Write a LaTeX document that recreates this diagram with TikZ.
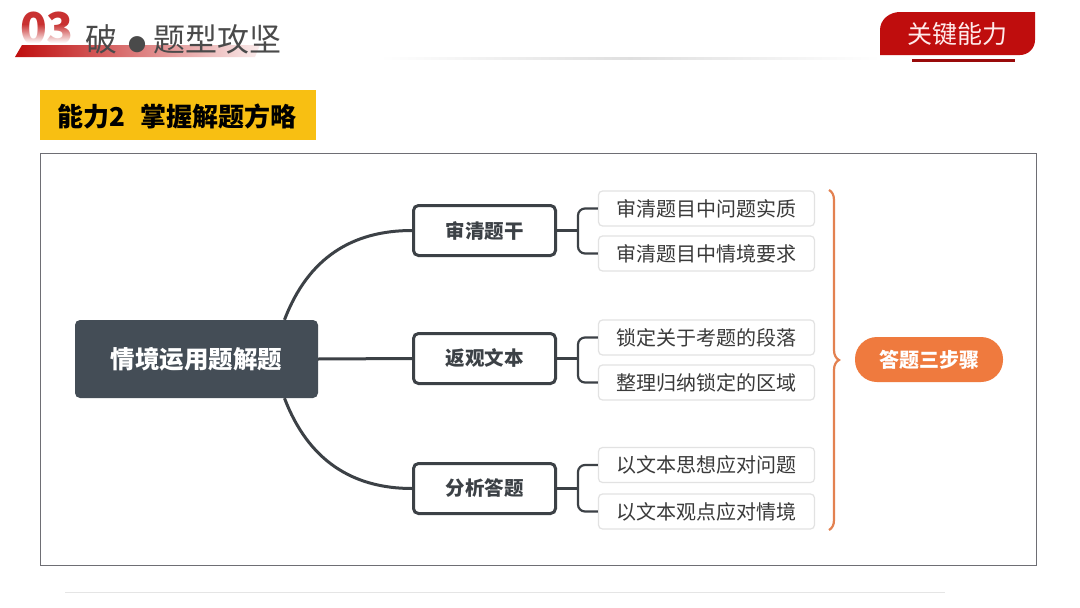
\documentclass[tikz,border=0pt]{standalone}
\usepackage{fontspec}
\setmainfont{Noto Sans CJK SC}
\usetikzlibrary{decorations.pathreplacing,calc,fadings}
\definecolor{slate}{HTML}{444D56}
\definecolor{bdark}{HTML}{3C4146}
\definecolor{subbd}{HTML}{E2E2E2}
\definecolor{subtx}{HTML}{3A3A3A}
\definecolor{orng}{HTML}{EF7A3E}
\definecolor{brc}{HTML}{E38150}
\definecolor{yel}{HTML}{F8BF12}
\definecolor{tabred}{HTML}{BF0D0D}
\definecolor{hdgray}{HTML}{4A4A4A}
\definecolor{frame}{HTML}{6E6E74}
\tikzset{
  center/.style={fill=slate, rounded corners=5pt, minimum width=243pt, minimum height=78pt, text=white, font=\fontsize{24.5}{27}\selectfont\bfseries},
  branch/.style={draw=bdark, line width=3pt, fill=white, rounded corners=5pt, minimum width=142pt, minimum height=50pt, text=bdark, font=\fontsize{19.5}{22}\selectfont\bfseries},
  sub/.style={draw=subbd, line width=1.2pt, fill=white, rounded corners=4pt, minimum width=216pt, minimum height=35pt, text=subtx, font=\fontsize{20}{22}\selectfont},
  link/.style={draw=bdark, line width=3pt},
  blink/.style={draw=bdark, line width=2.2pt, rounded corners=7pt},
  pill/.style={fill=orng, rounded corners=22pt, minimum width=148pt, minimum height=45pt, text=white, font=\fontsize{20}{22}\selectfont\bfseries},
}
\begin{document}
\begin{tikzpicture}[x=1pt,y=-1pt]
\useasboundingbox (0,0) rectangle (1080,608);
\fill[white] (0,0) rectangle (1080,608);
% header
\begin{scope}
\clip (0,0) rectangle (100,42);
\node[anchor=north west, text=tabred!85, font=\fontsize{44}{44}\selectfont\bfseries, inner sep=0pt] (num) at (20,12) {03};
\end{scope}
\fill[white, path fading=north] (15,24) rectangle (100,43);
\shade[left color=tabred, right color=tabred!8] (22,45) -- (260,45) -- (255,57) -- (15,57) -- cycle;
\node[anchor=west, text=hdgray, font=\fontsize{32}{34}\selectfont] (hd) at (82,39) {破\hspace{0.35em}{\fontsize{18}{18}\selectfont●}\hspace{0.2em}题型攻坚};
\shade[left color=white, right color=white, middle color=gray!25] (380,57.5) rectangle (880,59);
% tab
\fill[tabred] (880,55) -- (880,30) to[out=90,in=180] (900,12) -- (1035,12) -- (1035,40) to[out=270,in=0] (1020,55) -- cycle;
\node[text=red!8, font=\fontsize{25}{28}\selectfont] (tab) at (957,34) {关键能力};
\fill[tabred!80!black] (912,59) rectangle (1015,62);
% yellow title
\node[fill=yel, anchor=north west, minimum width=276pt, minimum height=50pt, inner sep=0pt] (ybox) at (40,90) {};
\node[anchor=west, font=\fontsize{26}{28}\selectfont\bfseries] (ytx) at (54,116) {能力2\hspace{0.6em}掌握解题方略};
% frame
\draw[frame, line width=0.9pt] (40,153) rectangle (1036,565);
\draw[gray!20, line width=1pt] (65,592) -- (945,592);
% nodes
\node[center] (c) at (196.5,359) {情境运用题解题};
\node[branch] (b1) at (484.5,230.5) {审清题干};
\node[branch] (b2) at (484.5,358.5) {返观文本};
\node[branch] (b3) at (484.5,488.5) {分析答题};
\node[sub] (s1) at (706.5,208.5) {审清题目中问题实质};
\node[sub] (s2) at (706.5,253.5) {审清题目中情境要求};
\node[sub] (s3) at (706.5,337.5) {锁定关于考题的段落};
\node[sub] (s4) at (706.5,382.5) {整理归纳锁定的区域};
\node[sub] (s5) at (706.5,465) {以文本思想应对问题};
\node[sub] (s6) at (706.5,511.5) {以文本观点应对情境};
\node[pill] (p) at (929,359.5) {答题三步骤};
% connectors
\coordinate (ct) at ($(c.north)+(88,0)$);
\coordinate (cb) at ($(c.south)+(88,0)$);
\draw[link] (ct) .. controls (308,258) and (352,230.5) .. (b1.west);
\draw[link] (cb) .. controls (308,460) and (352,488.5) .. (b3.west);
\draw[link] (c.east) -- (b2.west);
\coordinate (j1) at (578,230.5);
\coordinate (j2) at (578,358.5);
\coordinate (j3) at (578,488.5);
\draw[blink] (b1.east) -- (j1);
\draw[blink] (b2.east) -- (j2);
\draw[blink] (b3.east) -- (j3);
\draw[blink] (s1.west) -| (j1) |- (s2.west);
\draw[blink] (s3.west) -| (j2) |- (s4.west);
\draw[blink] (s5.west) -| (j3) |- (s6.west);
% brace
\coordinate (bt) at (829,190);
\coordinate (bb) at (829,530);
\draw[brc, line width=2.2pt, decorate, decoration={brace, amplitude=10pt}] (bt) -- (bb);
\end{tikzpicture}
\end{document}
